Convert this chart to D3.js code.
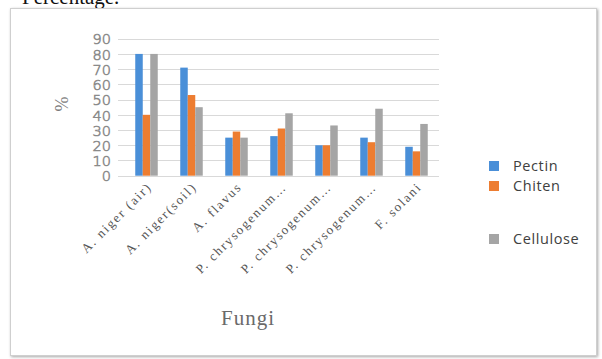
<!DOCTYPE html>
<html>
<head>
<meta charset="utf-8">
<script src="https://cdn.jsdelivr.net/npm/d3@7"></script>
<style>
  html, body { margin: 0; padding: 0; background: #fff; }
  svg { display: block; }
</style>
</head>
<body>
<svg id="chart" width="602" height="359"></svg>
<script>
// Enzyme activity of fungal isolates (%)
const categories = ["A. niger (air)", "A. niger(soil)", "A. flavus", "P. chrysogenum…", "P. chrysogenum…", "P. chrysogenum…", "F. solani"];
const seriesNames = ["Pectin", "Chiten", "Cellulose"];
const pectin    = [80, 71, 25, 26, 20, 25, 19];
const chiten    = [40, 53, 29, 31, 20, 22, 16];
const cellulose = [80, 45, 25, 41, 33, 44, 34];
const yTicks = [0, 10, 20, 30, 40, 50, 60, 70, 80, 90];
const colors = ["#4A8FD8", "#ED7D31", "#A5A5A5"];

const seriesValues = [pectin, chiten, cellulose];
const svg = d3.select("#chart");

// Caption line above the frame
svg.append("text")
  .attr("x", 22).attr("y", 4)
  .attr("font-family", "Liberation Serif, DejaVu Serif, serif")
  .attr("font-size", 21).attr("fill", "#111")
  .text("Percentage.");

// Chart frame with soft shadow
const defs = svg.append("defs");
const f = defs.append("filter").attr("id", "sh").attr("x", "-5%").attr("y", "-5%").attr("width", "110%").attr("height", "110%");
f.append("feGaussianBlur").attr("in", "SourceAlpha").attr("stdDeviation", 1.5).attr("result", "b");
f.append("feOffset").attr("in", "b").attr("dx", 1).attr("dy", 1).attr("result", "o");
f.append("feComponentTransfer").attr("in", "o").attr("result", "o2")
  .append("feFuncA").attr("type", "linear").attr("slope", 0.35);
const m = f.append("feMerge");
m.append("feMergeNode").attr("in", "o2");
m.append("feMergeNode").attr("in", "SourceGraphic");

svg.append("rect")
  .attr("x", 10.5).attr("y", 8.5).attr("width", 586).attr("height", 347)
  .attr("fill", "#fff").attr("stroke", "#cfcfcf").attr("stroke-width", 1)
  .attr("filter", "url(#sh)");

const plot = { left: 124, right: 439, top: 38.7, bottom: 175.7 };

const x = d3.scaleBand().domain(d3.range(categories.length))
  .range([plot.left, plot.right]).paddingInner(0.5).paddingOuter(0.25);
const xs = d3.scaleBand().domain(d3.range(seriesNames.length))
  .range([0, x.bandwidth()]);
const y = d3.scaleLinear().domain([0, 90]).range([plot.bottom, plot.top]);

// Horizontal gridlines
svg.append("g").selectAll("line").data(yTicks).join("line")
  .attr("x1", 118).attr("x2", plot.right)
  .attr("y1", d => Math.round(y(d)) + 0.5).attr("y2", d => Math.round(y(d)) + 0.5)
  .attr("stroke", "#d9d9d9").attr("stroke-width", 1);

// Y axis labels
const yAxis = d3.axisLeft(y).tickValues(yTicks).tickSize(0).tickPadding(0);
const gy = svg.append("g").attr("transform", `translate(111,0)`).call(yAxis);
gy.select(".domain").remove();
gy.selectAll("text")
  .attr("font-family", "DejaVu Sans, sans-serif")
  .attr("font-size", 14.5).attr("font-weight", 300)
  .attr("fill", "#fff").attr("stroke", "#8a8a8a").attr("stroke-width", 0.7)
  .attr("dy", "0.36em");

// Bars
const groups = svg.append("g").selectAll("g").data(categories).join("g")
  .attr("transform", (d, i) => `translate(${x(i)},0)`);
groups.selectAll("rect")
  .data((d, i) => seriesValues.map((vals, s) => ({ s, v: vals[i] })))
  .join("rect")
  .attr("x", d => xs(d.s))
  .attr("width", xs.bandwidth())
  .attr("y", d => y(d.v))
  .attr("height", d => y(0) - y(d.v))
  .attr("fill", d => colors[d.s]);

// Category axis labels, rotated
const xAxis = d3.axisBottom(x).tickFormat(i => categories[i]).tickSize(0).tickPadding(0);
const gx = svg.append("g").attr("transform", `translate(0,${plot.bottom})`).call(xAxis);
gx.select(".domain").remove();
gx.selectAll("text")
  .attr("font-family", "Liberation Serif, DejaVu Serif, serif")
  .attr("font-size", 13).attr("fill", "#555")
  .attr("letter-spacing", "1.8px")
  .attr("text-anchor", "end")
  .attr("dy", 0)
  .attr("transform", "translate(6,12) rotate(-45)");

// Axis titles
svg.append("text")
  .attr("transform", "translate(68,104) rotate(-90)")
  .attr("text-anchor", "middle")
  .attr("font-family", "Liberation Serif, DejaVu Serif, serif")
  .attr("font-size", 18).attr("fill", "#7a7a7a")
  .text("%");

svg.append("text")
  .attr("x", 248).attr("y", 325)
  .attr("text-anchor", "middle")
  .attr("font-family", "Liberation Serif, DejaVu Serif, serif")
  .attr("font-size", 21).attr("letter-spacing", "1px").attr("fill", "#6a6a6a")
  .text("Fungi");

// Legend
const legendY = [166, 186, 239];
const lg = svg.append("g").selectAll("g").data(seriesNames).join("g")
  .attr("transform", (d, i) => `translate(489,${legendY[i]})`);
lg.append("rect").attr("x", 0).attr("y", -5).attr("width", 10).attr("height", 10)
  .attr("fill", (d, i) => colors[i]);
lg.append("text").attr("x", 24).attr("y", 0).attr("dy", "0.36em")
  .attr("font-family", "Open Sans, Liberation Sans, sans-serif")
  .attr("font-size", 14.5).attr("letter-spacing", "0.6px").attr("fill", "#404040")
  .text(d => d);
</script>
</body>
</html>
